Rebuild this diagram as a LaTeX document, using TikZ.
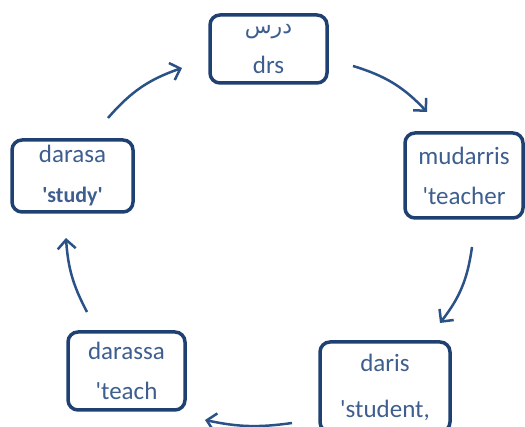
\documentclass[tikz,border=0pt]{standalone}
\usepackage{fontspec}
\setmainfont{Carlito}
\newfontfamily\arabicfont[Script=Arabic]{DejaVu Sans}
\TeXXeTstate=1
\usepackage{tikz}
\usetikzlibrary{arrows.meta}
\definecolor{boxblue}{HTML}{1F4172}
\definecolor{textblue}{HTML}{3D5E8E}
\definecolor{arrowblue}{HTML}{2B5287}
\newcommand{\q}{\textquotesingle}

\begin{document}
\begin{tikzpicture}[x=1pt,y=1pt,
    word node/.style={draw=boxblue,line width=3.5pt,rounded corners=10pt,inner sep=0pt,
        text=textblue,align=center,font=\fontsize{25}{40}\selectfont},
    cycle arrow/.style={draw=arrowblue,line width=2.5pt,
        -{Straight Barb[length=9pt,width=18pt,line width=2.5pt]}}]
    \useasboundingbox (0,0) rectangle (525,427);
    \node[word node,minimum width=117pt,minimum height=68pt] (drs) at (268.5,378)
        {{\fontsize{22}{22}\selectfont\arabicfont\beginR درس\endR}\\drs};
    \node[word node,minimum width=118pt,minimum height=85pt] (mudarris) at (464,251.5)
        {mudarris\\\q teacher};
    \node[word node,minimum width=130pt,minimum height=90pt] (daris) at (385,40)
        {daris\\[6pt]\q student,};
    \node[word node,minimum width=117pt,minimum height=78pt] (darassa) at (126.5,56)
        {darassa\\\q teach};
    \node[word node,minimum width=121pt,minimum height=72pt] (darasa) at (72.5,251)
        {darasa\\{\fontsize{22}{22}\selectfont\bfseries\q study\q}};
    % arrow ends
    \coordinate (a1) at (353,361);  \coordinate (b1) at (427,315);
    \coordinate (a2) at (472,180);  \coordinate (b2) at (440,104);
    \coordinate (a3) at (292,4);    \coordinate (b3) at (205,7);
    \coordinate (a4) at (87,115);   \coordinate (b4) at (66,189);
    \coordinate (a5) at (108,309);  \coordinate (b5) at (182,359);
    \path[every edge/.style={cycle arrow}]
        (a1) edge[bend left=15] (b1)
        (a2) edge[bend left=15] (b2)
        (a3) edge[bend left=10] (b3)
        (a4) edge[bend left=12] (b4)
        (a5) edge[bend left=15] (b5);
\end{tikzpicture}
\end{document}
